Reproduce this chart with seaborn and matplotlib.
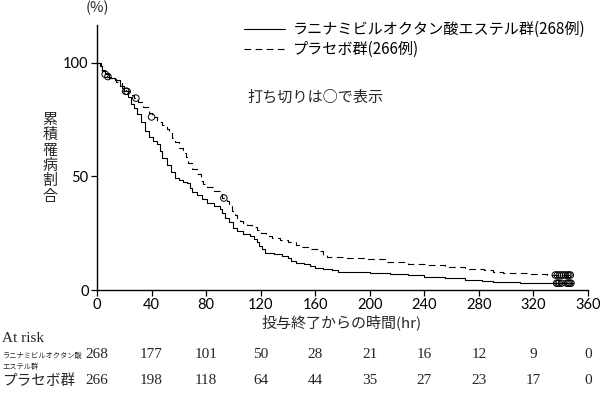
import numpy as np
import pandas as pd
import matplotlib
matplotlib.use('Agg')
import matplotlib.pyplot as plt
import matplotlib.transforms as mtransforms
import seaborn as sns

# curve readings: time (hr) and % still ill, step after each time
lan_t = [0, 2, 4, 6, 9, 13, 17, 20, 23, 25, 27, 29, 32, 35, 38, 41, 44, 46, 48, 51,
         54, 57, 60, 63, 66, 68, 70, 73, 77, 81, 86, 90, 92, 94, 97, 100, 103, 107,
         112, 115, 117, 119, 121, 123, 130, 136, 140, 142, 146, 152, 156, 160, 166,
         172, 177, 200, 215, 228, 240, 255, 270, 282, 290, 310, 325, 349]
lan_y = [100, 98.5, 96.5, 95, 93.5, 92.5, 90, 87.5, 85, 82, 80, 77.5, 74, 70, 67.5,
         65.5, 64.5, 61, 58, 55, 52, 49.5, 48.5, 47.5, 47, 45, 43, 41.8, 40, 38.5, 37,
         35.5, 34, 31.5, 30, 27.5, 26, 24.5, 23.8, 22.5, 21, 19.5, 18, 16.5, 15.8, 15,
         14, 12.8, 12, 11.3, 10.4, 9.8, 9.2, 8.6, 8, 7.6, 7.1, 6.5, 5.8, 5.1, 4.5,
         3.9, 3.4, 3.2, 3.0, 3.0]
pla_t = [0, 3, 6, 10, 14, 18, 21, 24, 27, 30, 34, 38, 40, 44, 48, 51, 53, 55, 57,
         60, 63, 65, 67, 70, 73, 76, 78, 81, 86, 92, 95, 97, 99, 101, 103, 105, 107,
         110, 114, 117, 120, 124, 128, 134, 140, 146, 150, 156, 162, 166, 169, 183,
         198, 212, 228, 242, 255, 270, 284, 290, 298, 315, 330, 349]
pla_y = [100, 97, 94, 93, 91.5, 89, 87.5, 86, 84.5, 83, 80.5, 78, 76.2, 74, 72.5, 71,
         69, 67, 65, 62.5, 60.5, 58.5, 56, 53.5, 51, 48, 46.5, 45.4, 43.5, 40.5, 39,
         37, 35, 33, 31.5, 30.5, 29.5, 28.8, 27.8, 26.5, 25, 24, 23, 22, 21, 20, 19,
         18, 17, 15.5, 14.6, 14.1, 13.5, 12.5, 11.5, 10.8, 10, 9.3, 8.9, 8, 7.4, 7,
         6.6, 6.6]

# censored times
lan_cens = [6, 21, 337, 338, 339, 340.5, 344.5, 345.5, 346.5, 347.5]
pla_cens = [8, 22, 28.5, 40, 93, 336, 337.5, 339, 340.5, 342, 343.5, 345, 346, 347]

risk_times = [0, 40, 80, 120, 160, 200, 240, 280, 320, 360]
lan_risk = [268, 177, 101, 50, 28, 21, 16, 12, 9, 0]
pla_risk = [266, 198, 118, 64, 44, 35, 27, 23, 17, 0]

lan_label = 'ラニナミビルオクタン酸エステル群(268例)'
pla_label = 'プラセボ群(266例)'

sns.set_theme(style='white')
plt.rcParams['font.family'] = ['Noto Sans CJK JP', 'DejaVu Sans']

fig = plt.figure(figsize=(6.02, 3.94), dpi=100)
ax = fig.add_axes([97/602, 1-290/394, (588-97)/602, (290-25)/394])

df_lan = pd.DataFrame({'t': lan_t, 'y': lan_y})
df_pla = pd.DataFrame({'t': pla_t, 'y': pla_y})
sns.lineplot(data=df_lan, x='t', y='y', ax=ax, color='black', lw=0.8,
             drawstyle='steps-post', estimator=None, label=lan_label)
sns.lineplot(data=df_pla, x='t', y='y', ax=ax, color='black', lw=0.8,
             drawstyle='steps-post', estimator=None, label=pla_label,
             linestyle=(0, (6, 4)))


def step_val(ts, ys, c):
    idx = np.searchsorted(np.array(ts), np.array(c), side='right') - 1
    return np.array(ys)[idx]


ax.scatter(lan_cens, step_val(lan_t, lan_y, lan_cens), s=22, facecolors='none',
           edgecolors='black', linewidths=0.7, zorder=3)
ax.scatter(pla_cens, step_val(pla_t, pla_y, pla_cens), s=22, facecolors='none',
           edgecolors='black', linewidths=0.7, zorder=3)

ax.set_xlim(0, 360)
ax.set_ylim(0, 116.7)
ax.set_xticks(risk_times)
ax.set_yticks([0, 50, 100])
ax.set_xlabel('')
ax.set_ylabel('')
sns.despine(ax=ax)
for s in ['left', 'bottom']:
    ax.spines[s].set_color('black')
    ax.spines[s].set_linewidth(1.0)
ax.tick_params(axis='both', direction='out', length=4, width=0.9, color='black',
               labelsize=10.5, labelcolor='black', pad=2, labelfontfamily='Lato',
               bottom=True, left=True)

leg = ax.legend(loc='upper left', bbox_to_anchor=(244/602, 1-21/394),
                bbox_transform=fig.transFigure, frameon=False, fontsize=10.9,
                handlelength=2.7, handletextpad=0.5, borderpad=0,
                labelspacing=0.2, borderaxespad=0)
for txt in leg.get_texts():
    txt.set_color('black')

fig.text(247/602, 1-97/394, '打ち切りは○で表示', fontsize=10.9, va='center', ha='left')
fig.text(97/602, 1-8/394, '(%)', fontsize=10.5, va='center', ha='center')

ylab = '累積罹病割合'
for i, ch in enumerate(ylab):
    fig.text(50/602, 1-(120+15.3*i)/394, ch, fontsize=10.8, ha='center', va='center')

fig.text(342/602, 1-322/394, '投与終了からの時間(hr)', fontsize=10.8, ha='center', va='center')

# at-risk table
tr = mtransforms.blended_transform_factory(ax.transData, fig.transFigure)
fig.text(2/602, 1-339/394, 'At risk', fontsize=11, family='Liberation Serif',
         ha='left', va='center')
fig.text(2/602, 1-361/394, 'ラニナミビルオクタン酸\nエステル群', fontsize=5.2,
         ha='left', va='center', linespacing=1.5)
fig.text(2/602, 1-381/394, 'プラセボ群', fontsize=10.5, ha='left', va='center')
for t, a, b in zip(risk_times, lan_risk, pla_risk):
    ax.text(t, 1-354/394, str(a), transform=tr, fontsize=11, family='Liberation Serif',
            ha='center', va='center', clip_on=False)
    ax.text(t, 1-381/394, str(b), transform=tr, fontsize=11, family='Liberation Serif',
            ha='center', va='center', clip_on=False)

fig.savefig('out.png', dpi=100)
